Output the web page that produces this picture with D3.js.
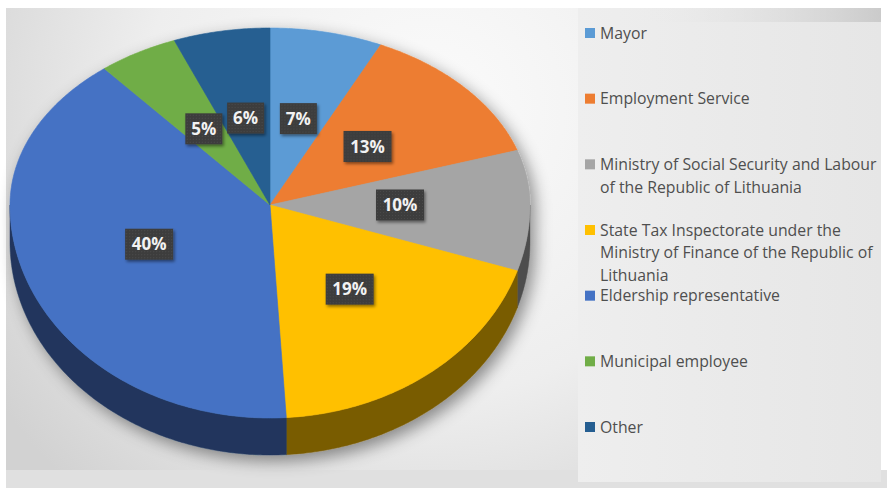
<!DOCTYPE html>
<html>
<head>
<meta charset="utf-8">
<script src="https://cdn.jsdelivr.net/npm/d3@7/dist/d3.min.js"></script>
<style>
  html, body { margin: 0; padding: 0; background: #ffffff; }
  svg { display: block; }
</style>
</head>
<body>
<script>
// Who respondents turned to (share of answers, %)
const categories = [
  "Mayor",
  "Employment Service",
  "Ministry of Social Security and Labour of the Republic of Lithuania",
  "State Tax Inspectorate under the Ministry of Finance of the Republic of Lithuania",
  "Eldership representative",
  "Municipal employee",
  "Other"
];
const values = [7, 13, 10, 19, 40, 5, 6];
const valueLabels = ["7%", "13%", "10%", "19%", "40%", "5%", "6%"];
// Legend text split into the lines it wraps to
const legendLines = [
  ["Mayor"],
  ["Employment Service"],
  ["Ministry of Social Security and Labour", "of the Republic of Lithuania"],
  ["State Tax Inspectorate under the", "Ministry of Finance of the Republic of", "Lithuania"],
  ["Eldership representative"],
  ["Municipal employee"],
  ["Other"]
];
const colors = ["#5b9bd5", "#ed7d31", "#a5a5a5", "#ffc000", "#4472c4", "#70ad47", "#255e91"];

const W = 887, H = 488;
const svg = d3.select("body").append("svg").attr("width", W).attr("height", H);
const defs = svg.append("defs");

// ---- backgrounds ----
const rg = defs.append("radialGradient").attr("id", "plotBg")
  .attr("gradientUnits", "userSpaceOnUse")
  .attr("cx", 430).attr("cy", 110).attr("r", 520);
rg.append("stop").attr("offset", 0).attr("stop-color", "#fbfbfb");
rg.append("stop").attr("offset", 0.55).attr("stop-color", "#eeeeee");
rg.append("stop").attr("offset", 1).attr("stop-color", "#d2d2d2");

const lg = defs.append("linearGradient").attr("id", "legendBg")
  .attr("x1", 0).attr("y1", 0).attr("x2", 1).attr("y2", 0);
lg.append("stop").attr("offset", 0).attr("stop-color", "#eeeeee");
lg.append("stop").attr("offset", 1).attr("stop-color", "#e6e6e6");

const lgTop = defs.append("linearGradient").attr("id", "legendTop")
  .attr("x1", 0).attr("y1", 0).attr("x2", 1).attr("y2", 0);
lgTop.append("stop").attr("offset", 0).attr("stop-color", "#eaeaea").attr("stop-opacity", 0);
lgTop.append("stop").attr("offset", 1).attr("stop-color", "#c4c4c4").attr("stop-opacity", 1);

svg.append("rect").attr("x", 0).attr("y", 0).attr("width", W).attr("height", H).attr("fill", "#ffffff");
svg.append("rect").attr("x", 6).attr("y", 470).attr("width", W - 6).attr("height", H - 470).attr("fill", "#e0e0e0");
svg.append("rect").attr("x", 6).attr("y", 8).attr("width", 572).attr("height", 462).attr("fill", "url(#plotBg)");
svg.append("rect").attr("x", 578).attr("y", 8).attr("width", W - 578 - 6).attr("height", 474).attr("fill", "url(#legendBg)");
svg.append("rect").attr("x", 640).attr("y", 8).attr("width", W - 640 - 6).attr("height", 14)
  .attr("fill", "url(#legendTop)").attr("opacity", 0.8);

// ---- pie geometry (tilted disc, nearer half taller than the far half) ----
const cx = 270, cy = 205, rx = 260, ryBack = 177, ryFront = 213, depth = 37;
function proj(a, r, dz) {
  const c = Math.cos(a);
  const ry = c > 0 ? ryBack : ryFront;
  return [cx + rx * r * Math.sin(a), cy - ry * r * c + (dz || 0)];
}

const pie = d3.pie().sort(null).value(d => d);
const arcs = pie(values);
const line = d3.line();

function arcPoints(a0, a1, r, dz) {
  const n = Math.max(2, Math.ceil(Math.abs(a1 - a0) / 0.01));
  return d3.range(n + 1).map(i => proj(a0 + (a1 - a0) * i / n, r, dz));
}

const shadow = defs.append("filter").attr("id", "pieShadow")
  .attr("x", "-20%").attr("y", "-20%").attr("width", "140%").attr("height", "140%");
shadow.append("feDropShadow").attr("dx", 5).attr("dy", 6).attr("stdDeviation", 8)
  .attr("flood-color", "#000").attr("flood-opacity", 0.42);

const pieG = svg.append("g").attr("filter", "url(#pieShadow)");

// side walls: only the near half (pi/2 .. 3pi/2) is visible
const sideG = pieG.append("g");
arcs.forEach((d, i) => {
  const a0 = Math.max(d.startAngle, Math.PI / 2);
  const a1 = Math.min(d.endAngle, 3 * Math.PI / 2);
  if (a1 <= a0) return;
  const pts = arcPoints(a0, a1, 1, 0).concat(arcPoints(a1, a0, 1, depth));
  const side = d3.color(colors[i]).darker(2.1);
  sideG.append("path")
    .attr("d", line(pts) + "Z")
    .attr("fill", side)
    .attr("stroke", side).attr("stroke-width", 0.5);
});

// top faces
const topG = pieG.append("g");
arcs.forEach((d, i) => {
  const pts = [proj(0, 0)].concat(arcPoints(d.startAngle, d.endAngle, 1, 0));
  topG.append("path")
    .attr("d", line(pts) + "Z")
    .attr("fill", colors[i])
    .attr("stroke", colors[i]).attr("stroke-width", 0.6);
});

// ---- value labels in dark boxes ----
const pat = defs.append("pattern").attr("id", "dots")
  .attr("width", 3).attr("height", 3).attr("patternUnits", "userSpaceOnUse");
pat.append("rect").attr("width", 3).attr("height", 3).attr("fill", "#3c3c3c");
pat.append("circle").attr("cx", 1.5).attr("cy", 1.5).attr("r", 0.7).attr("fill", "#4a4a4a");

const boxShadow = defs.append("filter").attr("id", "boxShadow")
  .attr("x", "-30%").attr("y", "-30%").attr("width", "160%").attr("height", "160%");
boxShadow.append("feDropShadow").attr("dx", 1.5).attr("dy", 2).attr("stdDeviation", 1.5)
  .attr("flood-color", "#000").attr("flood-opacity", 0.45);

const labelG = svg.append("g");
arcs.forEach((d, i) => {
  const mid = (d.startAngle + d.endAngle) / 2;
  const [x, y] = proj(mid, 0.5, 0);
  const txt = valueLabels[i];
  const bw = txt.length > 2 ? 48 : 37, bh = 31;
  const g = labelG.append("g").attr("transform", `translate(${x},${y})`);
  g.append("rect").attr("x", -bw / 2).attr("y", -bh / 2).attr("width", bw).attr("height", bh)
    .attr("fill", "url(#dots)").attr("filter", "url(#boxShadow)");
  g.append("text").attr("text-anchor", "middle").attr("dy", "0.36em")
    .attr("font-family", "'Open Sans', 'DejaVu Sans', sans-serif")
    .attr("font-weight", 700).attr("font-size", 17)
    .attr("fill", "#f2f2f2").text(txt);
});

// ---- legend ----
const legendY = d3.scalePoint().domain(categories).range([33, 427]);
const legG = svg.append("g");
categories.forEach((c, i) => {
  const y0 = legendY(c);
  legG.append("rect").attr("x", 585).attr("y", y0 - 5).attr("width", 10).attr("height", 10)
    .attr("fill", colors[i]);
  const t = legG.append("text")
    .attr("font-family", "'Open Sans', 'DejaVu Sans', sans-serif")
    .attr("font-size", 15.8).attr("fill", "#4f4f4f");
  legendLines[i].forEach((ln, k) => {
    t.append("tspan").attr("x", 600).attr("y", y0 + k * 22.5).attr("dy", "0.36em").text(ln);
  });
});
</script>
</body>
</html>
